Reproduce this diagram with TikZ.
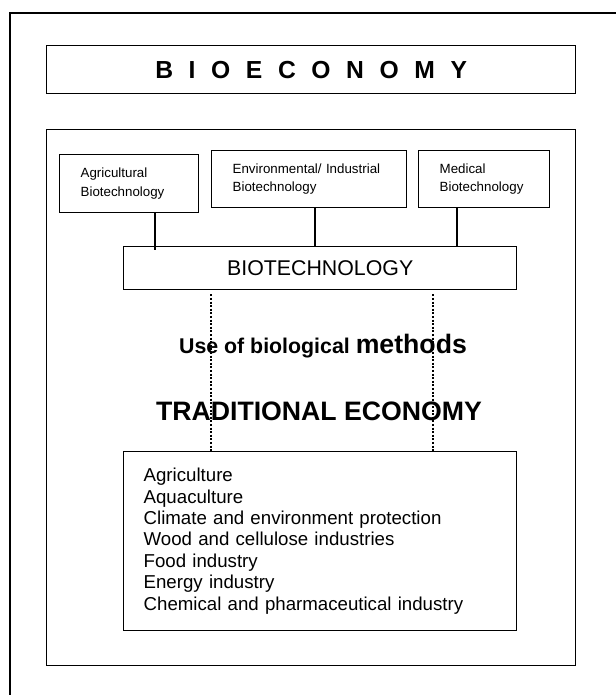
\documentclass[tikz,border=0pt]{standalone}
\usepackage{fontspec}
\setmainfont{Liberation Sans}
\newcommand{\px}{0.75pt}

\begin{document}
\begin{tikzpicture}[x=0.75pt, y=-0.75pt, line width=1pt,
		box/.style={draw, rectangle, inner sep=0pt, anchor=north west},
		subfield/.style={box, align=left, inner xsep=21*\px, font=\fontsize{10pt}{13.7pt}\selectfont},
		dotline/.style={line width=1.6pt, dash pattern=on 1.5pt off 1.2pt}]
	\useasboundingbox (0,0) rectangle (616,695);
	\clip (0,0) rectangle (616,695);
	\draw (10,13) rectangle (640,720);

	\node[box, minimum width=529*\px, minimum height=48*\px, font=\fontsize{18.5pt}{22pt}\selectfont\bfseries] (bioeconomy) at (46,45) {\spaceskip=11.7pt B I O E C O N O M Y};

	\node[box, minimum width=529*\px, minimum height=536*\px] (field) at (46,129) {};

	\node[subfield, text width=72.75pt, minimum height=58*\px] (agri) at (59,154) {Agricultural\\Biotechnology};
	\node[subfield, text width=114.75pt, minimum height=57*\px] (envind) at (211,150) {Environmental/ Industrial\\Biotechnology};
	\node[subfield, text width=66.75pt, minimum height=57*\px] (medical) at (418,150) {Medical\\Biotechnology};

	\node[box, minimum width=393*\px, minimum height=43*\px, font=\fontsize{16pt}{19pt}\selectfont] (biotech) at (123,246) {BIOTECHNOLOGY};

	\draw (agri.south -| 155,0) -- (biotech.north -| 155,0) -- ++(0,4);
	\draw (envind.south -| 315,0) -- (biotech.north -| 315,0);
	\draw (medical.south -| 457,0) -- (biotech.north -| 457,0);

	\node[anchor=base, font=\fontsize{16pt}{19pt}\selectfont\bfseries] (methods) at (323,353) {Use of biological {\fontsize{20pt}{24pt}\selectfont methods}};
	\node[anchor=base, font=\fontsize{20pt}{24pt}\selectfont\bfseries] (traditional) at (319,420) {TRADITIONAL ECONOMY};

	\node[box, align=left, text width=264.75pt, inner xsep=20*\px, minimum height=179*\px, font=\fontsize{14pt}{16.1pt}\selectfont] (sectors) at (123,451) {Agriculture\\Aquaculture\\Climate and environment protection\\Wood and cellulose industries\\Food industry\\Energy industry\\Chemical and pharmaceutical industry};

	\draw[dotline] (biotech.south -| 211,0) ++(0,4) -- (sectors.north -| 211,0);
	\draw[dotline] (biotech.south -| 433,0) ++(0,4) -- (sectors.north -| 433,0);
\end{tikzpicture}
\end{document}
